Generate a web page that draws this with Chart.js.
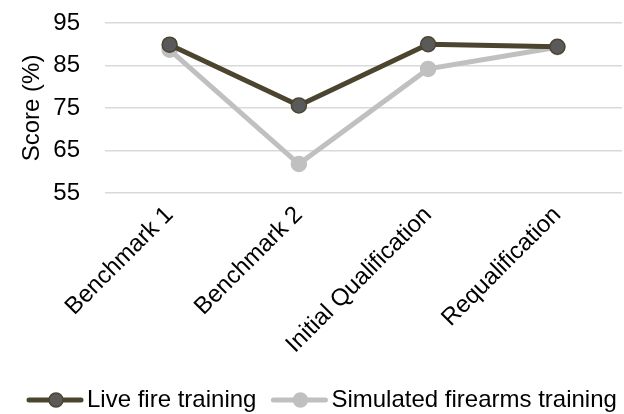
<!DOCTYPE html>
<html>
<head>
<meta charset="utf-8">
<script src="https://cdn.jsdelivr.net/npm/chart.js@4/dist/chart.umd.min.js"></script>
<style>
  html, body { margin: 0; padding: 0; background: #fff; }
  #wrap { width: 624px; height: 414px; }
</style>
</head>
<body>
<div id="wrap"><canvas id="scoreChart" width="624" height="414"></canvas></div>
<script>
// chart data
const categories = ['Benchmark 1', 'Benchmark 2', 'Initial Qualification', 'Requalification'];
const liveFire = [89.9, 75.6, 90.0, 89.4];
const simulated = [88.7, 61.8, 84.2, 89.3];
const yTicks = [55, 65, 75, 85, 95];

const FONT = '"Liberation Sans", Arial, sans-serif';
const LIVE_LINE = '#4b4530';
const LIVE_POINT = '#5a5a5a';
const SIM_LINE = '#c0c0c0';

// bottom legend drawn by hand: line + dot marker, then the label
const bottomLegend = {
    id: 'bottomLegend',
    afterDraw(chart) {
        const ctx = chart.ctx;
        const y = 400;
        let x = 27;
        ctx.save();
        ctx.font = '24px ' + FONT;
        ctx.textBaseline = 'middle';
        chart.data.datasets.forEach(ds => {
            ctx.strokeStyle = ds.borderColor;
            ctx.lineWidth = 5;
            ctx.lineCap = 'round';
            ctx.beginPath();
            ctx.moveTo(x + 2, y);
            ctx.lineTo(x + 54, y);
            ctx.stroke();
            ctx.fillStyle = ds.pointBackgroundColor;
            ctx.lineWidth = 1.5;
            ctx.beginPath();
            ctx.arc(x + 29, y, 7, 0, Math.PI * 2);
            ctx.fill();
            ctx.stroke();
            ctx.fillStyle = '#000';
            ctx.fillText(ds.label, x + 60, y);
            x += 60 + ctx.measureText(ds.label).width + 15;
        });
        ctx.restore();
    }
};

new Chart(document.getElementById('scoreChart'), {
    type: 'line',
    data: {
        labels: categories,
        datasets: [{
            label: 'Live fire training',
            data: liveFire,
            borderColor: LIVE_LINE,
            backgroundColor: LIVE_POINT,
            pointBackgroundColor: LIVE_POINT,
            pointBorderColor: LIVE_LINE,
            pointBorderWidth: 1.5,
            borderWidth: 5,
            pointRadius: 7.5,
            tension: 0
        }, {
            label: 'Simulated firearms training',
            data: simulated,
            borderColor: SIM_LINE,
            backgroundColor: SIM_LINE,
            pointBackgroundColor: SIM_LINE,
            pointBorderColor: SIM_LINE,
            pointBorderWidth: 1.5,
            borderWidth: 5,
            pointRadius: 7.5,
            tension: 0
        }]
    },
    plugins: [bottomLegend],
    options: {
        responsive: false,
        animation: false,
        layout: { autoPadding: false, padding: { left: 12, right: 2, top: 8, bottom: 47 } },
        plugins: {
            tooltip: { enabled: false },
            legend: { display: false }
        },
        scales: {
            x: {
                offset: true,
                grid: { display: false, drawTicks: false },
                border: { display: false },
                // rotated labels may hang past the plot's left edge, as in the original
                afterFit: axis => { axis.paddingLeft = 0; axis.paddingRight = 0; },
                ticks: {
                    color: '#000',
                    font: { family: FONT, size: 24 },
                    minRotation: 45,
                    maxRotation: 45,
                    autoSkip: false,
                    padding: 8
                }
            },
            y: {
                min: 55,
                max: 95,
                afterBuildTicks: axis => { axis.ticks = yTicks.map(v => ({ value: v })); },
                afterFit: axis => { axis.width = 93; axis.paddingTop = 23; axis.paddingBottom = 0; },
                grid: { color: '#d9d9d9', lineWidth: 1.5, drawTicks: false },
                border: { display: false },
                title: {
                    display: true,
                    text: 'Score (%)',
                    color: '#000',
                    font: { family: FONT, size: 24 },
                    padding: 6
                },
                ticks: {
                    color: '#000',
                    font: { family: FONT, size: 24 },
                    autoSkip: false,
                    padding: 25
                }
            }
        }
    }
});
</script>
</body>
</html>
